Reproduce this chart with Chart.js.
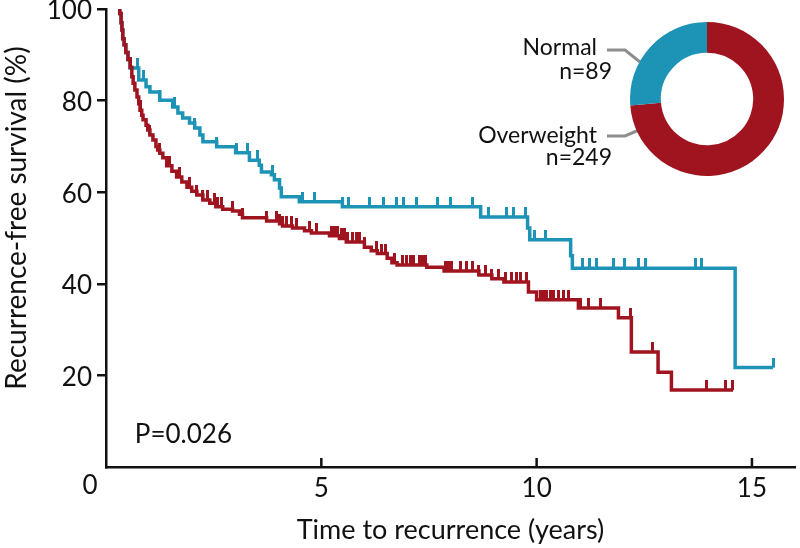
<!DOCTYPE html>
<html>
<head>
<meta charset="utf-8">
<script src="https://cdn.jsdelivr.net/npm/chart.js@4"></script>
<style>
  html, body { margin: 0; background: #fff; }
  #wrap { position: relative; width: 800px; height: 548px; }
  #km { position: absolute; left: 0; top: 0; }
  #donut { position: absolute; }
</style>
</head>
<body>
<div id="wrap">
  <canvas id="km" width="800" height="548"></canvas>
  <canvas id="donut" width="160" height="160"></canvas>
</div>
<script>
'use strict';

// ── Data ──────────────────────────────────────────────────────────────────────

const xTicks = [0, 5, 10, 15];
const yTicks = [20, 40, 60, 80, 100];

const groupLabels = ['Overweight', 'Normal'];
const groupCounts = [249, 89];

// Normal BMI: step times (years) and survival (%) after each step
const normalTimes = [0.28, 0.32, 0.35, 0.37, 0.39, 0.42, 0.46, 0.51, 0.56, 0.76, 0.93, 1.02, 1.25,
  1.55, 1.67, 1.78, 1.94, 2.06, 2.18, 2.25, 2.57, 3.01, 3.33, 3.56, 3.61, 3.84, 3.91, 4.03, 4.07,
  4.49, 5.49, 8.70, 9.79, 9.84, 10.79, 10.83, 14.61, 15.49];
const normalSurv = [100, 99, 97, 95.4, 93.5, 92.2, 90.5, 89, 87.1, 84.5, 83, 81.9, 80.1,
  78.6, 77.3, 76.2, 75.1, 74.0, 72.5, 71.0, 69.9, 68.6, 67.0, 65.9, 64.4, 63.8, 62.7, 60.9, 59.0,
  57.9, 56.8, 54.6, 52.2, 49.6, 46.1, 43.4, 21.7, 21.7];
const normalCensor = [0.72, 0.86, 1.25, 1.60, 2.06, 2.57, 3.03, 3.29, 3.52, 3.87, 4.56, 4.84, 5.49,
  5.63, 6.11, 6.44, 6.74, 6.92, 7.20, 7.69, 8.01, 8.50, 8.89, 9.31, 9.47, 9.75, 9.95, 10.21, 11.06,
  11.23, 11.39, 11.78, 12.04, 12.36, 12.52, 13.68, 13.84, 15.49];

// Overweight
const overTimes = [0.28, 0.32, 0.35, 0.37, 0.39, 0.42, 0.46, 0.51, 0.56, 0.60, 0.63, 0.67, 0.72,
  0.76, 0.79, 0.83, 0.86, 0.93, 0.97, 1.02, 1.09, 1.16, 1.20, 1.25, 1.32, 1.41, 1.53, 1.64, 1.76,
  1.88, 1.99, 2.11, 2.25, 2.41, 2.55, 2.71, 2.94, 3.10, 3.17, 3.73, 4.03, 4.10, 4.33, 4.61, 4.77,
  5.19, 5.42, 5.58, 6.00, 6.16, 6.30, 6.53, 6.64, 6.76, 7.45, 7.85, 8.66, 8.96, 9.24, 9.81, 10.00,
  10.97, 11.90, 12.20, 12.82, 13.13, 14.56];
const overSurv = [100, 99, 97, 95.4, 93.5, 92.2, 90.5, 89, 87.3, 85.2, 83.8, 82.3, 80.8,
  79.3, 77.9, 76.8, 75.8, 74.6, 73.6, 72.5, 71.4, 70.0, 69.2, 68.5, 67.5, 65.8, 64.6, 63.3, 62.2,
  61.1, 60.2, 59.4, 58.3, 57.6, 56.8, 56.3, 55.9, 55.2, 54.4, 53.7, 53.1, 52.6, 52.2, 51.6, 51.1,
  50.5, 49.9, 49.1, 48.0, 47.2, 46.6, 45.6, 44.6, 44.1, 43.6, 42.8, 41.9, 41.1, 40.4, 38.2, 36.5,
  34.7, 32.6, 25.1, 20.7, 16.8, 16.8];
const overCensor = [0.56, 0.79, 1.02, 1.25, 1.48, 1.71, 1.94, 2.11, 2.25, 2.36, 2.52, 2.59, 2.69,
  2.94, 3.17, 3.73, 3.96, 4.03, 4.10, 4.19, 4.31, 4.42, 4.72, 4.88, 5.23, 5.30, 5.37, 5.46, 5.53,
  5.60, 5.72, 5.81, 5.88, 6.00, 6.27, 6.39, 6.50, 6.69, 6.88, 6.97, 7.08, 7.15, 7.27, 7.34, 7.43,
  7.89, 7.96, 8.03, 8.24, 8.36, 8.50, 8.66, 8.82, 8.96, 9.12, 9.28, 9.42, 9.54, 9.63, 9.77, 10.09,
  10.16, 10.23, 10.32, 10.39, 10.51, 10.62, 10.74, 11.02, 11.20, 11.48, 12.18, 12.69, 13.94, 14.38,
  14.56];

const pLabel = 'P=0.026';
const yTitle = 'Recurrence-free survival (%)';
const xTitle = 'Time to recurrence (years)';

// ── Style ─────────────────────────────────────────────────────────────────────

const RED = '#a0141f';
const BLUE = '#1d93b6';
const INK = '#111';
const GREY = '#8e8e8e';
const FONT = "Lato, 'Open Sans', sans-serif";
const DONUT = { cx: 707, cy: 99, r: 77 };

// ── Helpers ───────────────────────────────────────────────────────────────────

function survAt(times, surv, t) {
  let v = surv[0];
  for (let i = 0; i < times.length; i++) if (times[i] <= t + 1e-9) v = surv[i];
  return v;
}

// censor mark: a short stroke rising from the curve
function tickGlyph(color) {
  const c = document.createElement('canvas');
  c.width = 3; c.height = 20;
  const g = c.getContext('2d');
  g.fillStyle = color;
  g.fillRect(0, 0, 3, 10);
  return c;
}

const toPoints = (ts, ss) => ts.map((t, i) => ({ x: t, y: ss[i] }));
const censorPoints = (cs, ts, ss) => cs.map(t => ({ x: t, y: survAt(ts, ss, t) }));

const curve = (label, ts, ss, color, order) => ({
  label, data: toPoints(ts, ss), borderColor: color, borderWidth: 3.5,
  stepped: true, pointRadius: 0, fill: false, order,
});
const marks = (label, cs, ts, ss, color, order) => ({
  label, data: censorPoints(cs, ts, ss), showLine: false,
  pointStyle: tickGlyph(color), pointRadius: 4, order,
});

// ── Annotations ───────────────────────────────────────────────────────────────

const annotate = {
  id: 'annotate',
  afterDraw(chart) {
    const { ctx, scales: { x, y } } = chart;
    ctx.save();

    // time axis ticks point into the plot
    ctx.strokeStyle = INK; ctx.lineWidth = 2.5;
    xTicks.filter(v => v > 0).forEach(v => {
      const px = x.getPixelForValue(v);
      ctx.beginPath(); ctx.moveTo(px, y.bottom); ctx.lineTo(px, y.bottom - 9); ctx.stroke();
    });

    ctx.fillStyle = INK;
    ctx.font = `26px ${FONT}`;
    ctx.textAlign = 'center'; ctx.textBaseline = 'top';
    ctx.fillText('0', x.getPixelForValue(0) - 16, x.top + 6);

    ctx.textAlign = 'left'; ctx.textBaseline = 'middle';
    ctx.fillText(pLabel, x.getPixelForValue(0.67), y.getPixelForValue(7));

    // y title, centred a little above the plot middle as in the original
    ctx.save();
    ctx.font = `28px ${FONT}`;
    ctx.translate(17, 218);
    ctx.rotate(-Math.PI / 2);
    ctx.textAlign = 'center';
    ctx.fillText(yTitle, 0, 0);
    ctx.restore();

    // pie labels + leader lines
    const { cx, cy } = DONUT;
    ctx.font = `23px ${FONT}`;
    ctx.textAlign = 'right';
    ctx.fillText(groupLabels[1], cx - 110, cy - 51);
    ctx.fillText('n=' + groupCounts[1], cx - 95, cy - 27);
    ctx.fillText(groupLabels[0], cx - 110, cy + 37);
    ctx.fillText('n=' + groupCounts[0], cx - 95, cy + 59);

    ctx.strokeStyle = GREY; ctx.lineWidth = 3;
    ctx.beginPath();
    ctx.moveTo(cx - 100, cy - 49); ctx.lineTo(cx - 82, cy - 49); ctx.lineTo(cx - 67, cy - 37);
    ctx.moveTo(cx - 100, cy + 37); ctx.lineTo(cx - 82, cy + 37); ctx.lineTo(cx - 68, cy + 31);
    ctx.stroke();
    ctx.restore();
  },
};

// ── Survival chart ────────────────────────────────────────────────────────────

new Chart(document.getElementById('km'), {
  type: 'line',
  data: {
    datasets: [
      curve('Overweight', overTimes, overSurv, RED, 1),
      marks('Overweight censored', overCensor, overTimes, overSurv, RED, 1),
      curve('Normal', normalTimes, normalSurv, BLUE, 2),
      marks('Normal censored', normalCensor, normalTimes, normalSurv, BLUE, 2),
    ],
  },
  options: {
    responsive: false,
    animation: false,
    layout: { padding: { top: 9, right: 2, left: 0, bottom: 0 } },
    plugins: { legend: { display: false }, tooltip: { enabled: false } },
    scales: {
      x: {
        type: 'linear', min: 0, max: 16,
        afterBuildTicks: s => { s.ticks = xTicks.map(v => ({ value: v })); },
        afterFit: s => { s.height = 81; s.paddingLeft = 0; s.paddingRight = 0; },
        grid: { display: false, drawTicks: false },
        border: { display: true, color: INK, width: 2.5 },
        ticks: {
          color: INK, padding: 6, maxRotation: 0, autoSkip: false,
          font: { family: FONT, size: 26 },
          callback: v => (v === 0 ? '' : v),
        },
        title: {
          display: true, text: xTitle, color: INK,
          font: { family: FONT, size: 27 }, padding: { top: 0, bottom: 2 },
        },
      },
      y: {
        min: 0, max: 100,
        afterBuildTicks: s => { s.ticks = yTicks.map(v => ({ value: v })); },
        afterFit: s => { s.width = 106; s.paddingTop = 0; s.paddingBottom = 0; },
        grid: { drawOnChartArea: false, drawTicks: true, tickLength: 9, tickWidth: 2.5, tickColor: INK, color: INK, lineWidth: 2.5 },
        border: { display: true, color: INK, width: 2.5 },
        ticks: { color: INK, padding: 5, labelOffset: 2, font: { family: FONT, size: 26 } },
        title: { display: false },
      },
    },
  },
  plugins: [annotate],
});

// ── Group split donut ─────────────────────────────────────────────────────────

const donutEl = document.getElementById('donut');
donutEl.style.left = (DONUT.cx - 80) + 'px';
donutEl.style.top = (DONUT.cy - 80) + 'px';

new Chart(donutEl, {
  type: 'doughnut',
  data: {
    labels: groupLabels,
    datasets: [{ data: groupCounts, backgroundColor: [RED, BLUE], borderWidth: 0 }],
  },
  options: {
    responsive: false,
    animation: false,
    cutout: '60%',
    layout: { padding: 3 },
    plugins: { legend: { display: false }, tooltip: { enabled: false } },
  },
});
</script>
</body>
</html>
